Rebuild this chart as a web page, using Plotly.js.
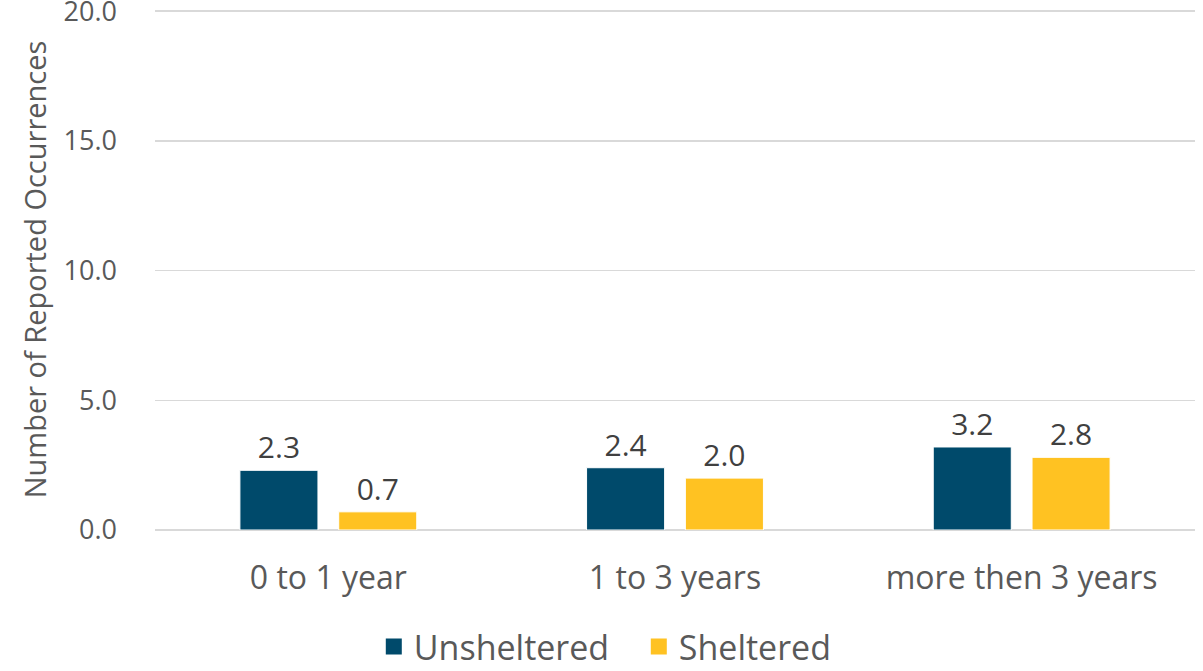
<!DOCTYPE html>
<html>
<head>
<meta charset="utf-8">
<script src="https://cdn.plot.ly/plotly-3.0.1.min.js"></script>
<style>html,body{margin:0;padding:0;background:#fff;}#chart{width:1203px;height:671px;}</style>
</head>
<body>
<div id="chart"></div>
<script>
const categories = ["0 to 1 year", "1 to 3 years", "more then 3 years"];
const seriesNames = ["Unsheltered", "Sheltered"];
const unsheltered = [2.3, 2.4, 3.2];
const sheltered = [0.7, 2.0, 2.8];
const yTicks = [0, 5, 10, 15, 20];
const yTickLabels = ["0.0", "5.0", "10.0", "15.0", "20.0"];

const font = "'Open Sans', sans-serif";
const colors = ["#004A6B", "#FFC222"];
const values = [unsheltered, sheltered];
const traces = [];
values.forEach((vals, i) => {
  traces.push({
    type: "bar", name: seriesNames[i], x: categories, y: vals, showlegend: false,
    marker: {color: colors[i], line: {color: "#ffffff", width: 1}},
    text: vals.map(v => v.toFixed(1)), textposition: "outside",
    textfont: {family: font, size: 30, color: "#404040"}, cliponaxis: false
  });
});
values.forEach((vals, i) => {
  traces.push({
    type: "scatter", mode: "markers", name: seriesNames[i], x: [null], y: [null], showlegend: true,
    marker: {symbol: "square", size: 22, color: colors[i]}, hoverinfo: "skip"
  });
});
const layout = {
  width: 1203, height: 671,
  margin: {l: 155, r: 8, t: 9, b: 141, autoexpand: false},
  paper_bgcolor: "#ffffff", plot_bgcolor: "#ffffff",
  font: {family: font, color: "#595959"},
  barmode: "group", bargap: 0.43, bargroupgap: 0.21,
  showlegend: true,
  legend: {orientation: "h", x: 0.531, xanchor: "center", xref: "container", y: -0.28, yanchor: "bottom",
           font: {family: font, size: 34, color: "#595959"}, entrywidth: 220, entrywidthmode: "pixels",
           traceorder: "normal", itemsizing: "trace"},
  xaxis: {
    type: "category", showgrid: false, zeroline: false, showline: false, ticks: "",
    tickfont: {family: font, size: 32, color: "#595959"}, ticklabelstandoff: 26
  },
  yaxis: {
    range: [0, 20.08], tickvals: yTicks, ticktext: yTickLabels,
    showgrid: true, gridcolor: "#d9d9d9", gridwidth: 1.5,
    zeroline: true, zerolinecolor: "#d9d9d9", zerolinewidth: 1.5,
    showline: false, ticks: "", ticklabelstandoff: 37, ticklabeloverflow: "allow",
    tickfont: {family: font, size: 27, color: "#595959"},
    title: {text: "Number of Reported Occurrences", font: {family: font, size: 29, color: "#595959"}, standoff: 8}
  }
};
Plotly.newPlot("chart", traces, layout, {displayModeBar: false, staticPlot: true});
</script>
</body>
</html>
